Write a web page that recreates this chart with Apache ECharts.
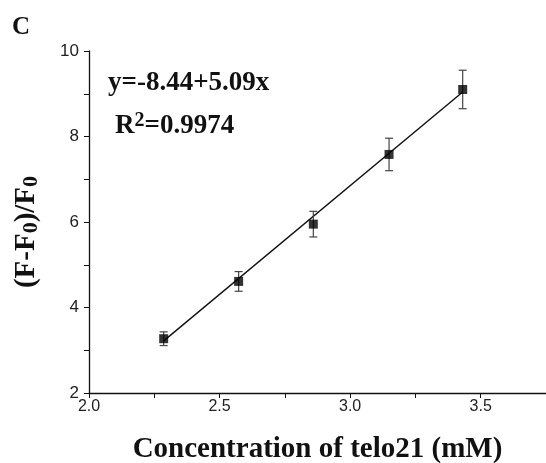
<!DOCTYPE html>
<html>
<head>
<meta charset="utf-8">
<script src="https://cdn.jsdelivr.net/npm/echarts@6/dist/echarts.min.js"></script>
<style>
  html, body { margin: 0; padding: 0; background: #fff; }
  #chart { width: 546px; height: 463px; }
</style>
</head>
<body>
<div id="chart"></div>
<script>
// valores
var concentraciones = [2.286, 2.573, 2.859, 3.149, 3.431];
var respuesta = [3.27, 4.61, 5.95, 7.58, 9.10];
var errores = [0.16, 0.23, 0.30, 0.38, 0.45];

// extremos de la recta de ajuste dibujada
var ajusteX = [2.286, 3.431];
var ajusteY = [3.22, 9.04];

var xTicks = [2.0, 2.5, 3.0, 3.5];
var yTicks = [2, 4, 6, 8, 10];

var chart = echarts.init(document.getElementById('chart'));

var puntos = concentraciones.map(function (x, i) { return [x, respuesta[i]]; });
var barras = concentraciones.map(function (x, i) {
    return [x, respuesta[i] - errores[i], respuesta[i] + errores[i]];
});
var recta = ajusteX.map(function (x, i) { return [x, ajusteY[i]]; });

var serif = '"Liberation Serif", "Times New Roman", serif';
var sans = '"Liberation Sans", Arial, sans-serif';

var option = {
    animation: false,
    backgroundColor: '#fff',
    grid: { left: 89, right: 0, top: 51, bottom: 70, outerBoundsMode: 'none', containLabel: false },
    xAxis: {
        type: 'value',
        min: 2.0,
        max: 3.75,
        interval: 0.25,
        name: 'Concentration of telo21 (mM)',
        nameLocation: 'middle',
        nameGap: 42,
        nameTextStyle: { fontFamily: serif, fontWeight: 'bold', fontSize: 29, color: '#111' },
        axisLine: { lineStyle: { color: '#111', width: 1.3 } },
        axisTick: { inside: false, length: 5, lineStyle: { color: '#111' } },
        splitLine: { show: false },
        axisLabel: {
            fontFamily: sans, fontSize: 16, color: '#222', margin: 6,
            showMaxLabel: false,
            formatter: function (v) {
                return xTicks.indexOf(v) >= 0 ? v.toFixed(1) : '';
            }
        }
    },
    yAxis: {
        type: 'value',
        min: 2,
        max: 10,
        interval: 1,
        name: '(F-F{sub|0})/F{sub|0}',
        nameLocation: 'middle',
        nameGap: 47,
        nameRotate: 90,
        nameTextStyle: {
            fontFamily: serif, fontWeight: 'bold', fontSize: 29, color: '#111',
            padding: [0, 20, 0, 0],
            rich: {
                sub: { fontFamily: serif, fontWeight: 'bold', fontSize: 22, color: '#111', verticalAlign: 'bottom', padding: [9, 0, 0, 0] }
            }
        },
        axisLine: { lineStyle: { color: '#111', width: 1.3 } },
        axisTick: { inside: false, length: 5, lineStyle: { color: '#111' } },
        splitLine: { show: false },
        axisLabel: {
            fontFamily: sans, fontSize: 17, color: '#222', margin: 10,
            formatter: function (v) { return yTicks.indexOf(v) >= 0 ? String(v) : ''; }
        }
    },
    graphic: [
        {
            type: 'text', left: 12, top: 15,
            style: { text: 'C', font: 'bold 25px ' + serif, fill: '#111' }
        },
        {
            type: 'text', left: 108, top: 70,
            style: { text: 'y=-8.44+5.09x', font: 'bold 27px ' + serif, fill: '#111' }
        },
        {
            type: 'text', left: 115, top: 111,
            style: {
                text: 'R{sup|2}=0.9974',
                font: 'bold 27px ' + serif,
                fill: '#111',
                rich: {
                    sup: { font: 'bold 20px ' + serif, fill: '#111', verticalAlign: 'top', padding: [0, 0, 10, 0] }
                }
            }
        }
    ],
    series: [
        {
            name: 'ajuste',
            type: 'line',
            data: recta,
            symbol: 'none',
            lineStyle: { color: '#111', width: 1.4 },
            z: 2
        },
        {
            name: 'error',
            type: 'custom',
            data: barras,
            z: 3,
            renderItem: function (params, api) {
                var x = api.value(0);
                var bajo = api.coord([x, api.value(1)]);
                var alto = api.coord([x, api.value(2)]);
                var cap = 4;
                var estilo = { stroke: '#444', lineWidth: 1.2 };
                return {
                    type: 'group',
                    children: [
                        { type: 'line', shape: { x1: bajo[0], y1: bajo[1], x2: alto[0], y2: alto[1] }, style: estilo },
                        { type: 'line', shape: { x1: bajo[0] - cap, y1: bajo[1], x2: bajo[0] + cap, y2: bajo[1] }, style: estilo },
                        { type: 'line', shape: { x1: alto[0] - cap, y1: alto[1], x2: alto[0] + cap, y2: alto[1] }, style: estilo }
                    ]
                };
            }
        },
        {
            name: 'datos',
            type: 'scatter',
            data: puntos,
            symbol: 'rect',
            symbolSize: 9,
            itemStyle: { color: '#000' },
            z: 4
        }
    ]
};

chart.setOption(option);
</script>
</body>
</html>
